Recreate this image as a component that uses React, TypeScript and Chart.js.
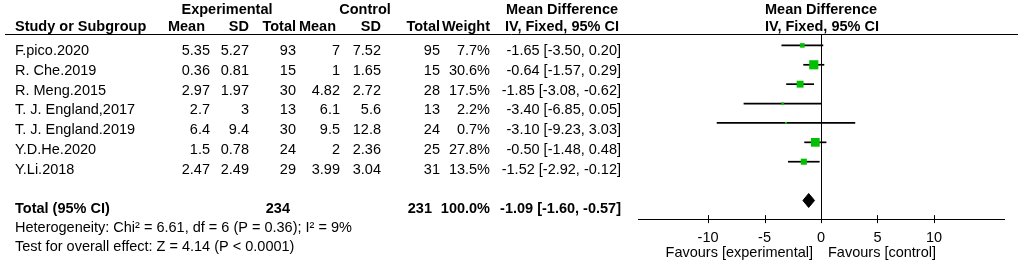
import React, { useEffect, useRef } from "react";
import { Chart, registerables } from "chart.js";

Chart.register(...registerables);

// ---- data ----
const studies = [
  "F.pico.2020",
  "R. Che.2019",
  "R. Meng.2015",
  "T. J. England,2017",
  "T. J. England.2019",
  "Y.D.He.2020",
  "Y.Li.2018",
];
const expMean = ["5.35", "0.36", "2.97", "2.7", "6.4", "1.5", "2.47"];
const expSD = ["5.27", "0.81", "1.97", "3", "9.4", "0.78", "2.49"];
const expTotal = [93, 15, 30, 13, 30, 24, 29];
const ctrlMean = ["7", "1", "4.82", "6.1", "9.5", "2", "3.99"];
const ctrlSD = ["7.52", "1.65", "2.72", "5.6", "12.8", "2.36", "3.04"];
const ctrlTotal = [95, 15, 28, 13, 24, 25, 31];
const weights = [7.7, 30.6, 17.5, 2.2, 0.7, 27.8, 13.5];
const meanDiff = [-1.65, -0.64, -1.85, -3.4, -3.1, -0.5, -1.52];
const ciLow = [-3.5, -1.57, -3.08, -6.85, -9.23, -1.48, -2.92];
const ciHigh = [0.2, 0.29, -0.62, 0.05, 3.03, 0.48, -0.12];

const totalExp = 234;
const totalCtrl = 231;
const totalWeight = 100.0;
const totalMD = -1.09;
const totalLow = -1.6;
const totalHigh = -0.57;

const xTicks = [-10, -5, 0, 5, 10];
const heterogeneityText = "Heterogeneity: Chi\u00b2 = 6.61, df = 6 (P = 0.36); I\u00b2 = 9%";
const overallText = "Test for overall effect: Z = 4.14 (P < 0.0001)";
const favoursLeft = "Favours [experimental]";
const favoursRight = "Favours [control]";

// ---- style ----
const FONT_FAMILY = '"Liberation Sans", Arial, Helvetica, sans-serif';
const FS = 14.5;
const GREEN = "#00c000";
const TOTAL_ROW = 8;

const f2 = (v: number) => (v < 0 ? "-" : "") + Math.abs(v).toFixed(2);
const ciText = (m: number, l: number, h: number) => `${f2(m)} [${f2(l)}, ${f2(h)}]`;

const tablePlugin = {
  id: "forestTable",
  afterDraw(chart: any) {
    const ctx: CanvasRenderingContext2D = chart.ctx;
    const xs = chart.scales.x;
    const area = chart.chartArea;
    ctx.save();
    ctx.fillStyle = "#000";
    const t = (s: string, x: number, y: number, align: CanvasTextAlign, bold = false) => {
      ctx.font = `${bold ? "bold " : ""}${FS}px ${FONT_FAMILY}`;
      ctx.textAlign = align;
      ctx.textBaseline = "alphabetic";
      ctx.fillText(s, x, y);
    };
    const colExpMean = 210, colExpSD = 249, colExpTot = 296;
    const colCtlMean = 340, colCtlSD = 381, colCtlTot = 440;
    const colWeight = 490, colCI = 621;
    // headers
    t("Experimental", 227, 14, "center", true);
    t("Control", 365, 14, "center", true);
    t("Mean Difference", 562, 14, "center", true);
    t("Mean Difference", xs.getPixelForValue(0), 14, "center", true);
    const hy = 31;
    t("Study or Subgroup", 15, hy, "left", true);
    t("Mean", 205, hy, "right", true);
    t("SD", colExpSD, hy, "right", true);
    t("Total", colExpTot, hy, "right", true);
    t("Mean", 336, hy, "right", true);
    t("SD", colCtlSD, hy, "right", true);
    t("Total", colCtlTot, hy, "right", true);
    t("Weight", colWeight, hy, "right", true);
    t("IV, Fixed, 95% CI", 562, hy, "center", true);
    t("IV, Fixed, 95% CI", xs.getPixelForValue(0) + 1, hy, "center", true);

    // header rule
    ctx.strokeStyle = "#000";
    ctx.lineWidth = 1;
    ctx.beginPath();
    ctx.moveTo(5, 34.5);
    ctx.lineTo(1018, 34.5);
    ctx.stroke();

    // rows
    const base = 55;
    const step = 19.75;
    studies.forEach((s, i) => {
      const y = base + i * step;
      t(s, 15, y, "left");
      t(expMean[i], colExpMean, y, "right");
      t(expSD[i], colExpSD, y, "right");
      t(String(expTotal[i]), colExpTot, y, "right");
      t(ctrlMean[i], colCtlMean, y, "right");
      t(ctrlSD[i], colCtlSD, y, "right");
      t(String(ctrlTotal[i]), colCtlTot, y, "right");
      t(weights[i].toFixed(1) + "%", colWeight, y, "right");
      t(ciText(meanDiff[i], ciLow[i], ciHigh[i]), colCI, y, "right");
    });
    const ty = base + TOTAL_ROW * step;
    t("Total (95% CI)", 15, ty, "left", true);
    t(String(totalExp), colExpTot - 6, ty, "right", true);
    t(String(totalCtrl), colCtlTot - 8, ty, "right", true);
    t(totalWeight.toFixed(1) + "%", colWeight, ty, "right", true);
    t(ciText(totalMD, totalLow, totalHigh), colCI, ty, "right", true);
    t(heterogeneityText, 15, 232, "left");
    t(overallText, 15, 251, "left");

    // zero line
    const x0 = Math.round(xs.getPixelForValue(0)) + 0.5;
    ctx.beginPath();
    ctx.moveTo(x0, 34.5);
    ctx.lineTo(x0, area.bottom);
    ctx.stroke();

    // ticks crossing the axis
    xs.ticks.forEach((tk: any) => {
      const px = Math.round(xs.getPixelForValue(tk.value)) + 0.5;
      ctx.beginPath();
      ctx.moveTo(px, area.bottom - 4);
      ctx.lineTo(px, area.bottom + 4);
      ctx.stroke();
    });

    // favours labels
    t(favoursLeft, xs.getPixelForValue(0) - 8, 257, "right");
    t(favoursRight, xs.getPixelForValue(0) + 7, 257, "left");
    ctx.restore();
  },
};

export default function App() {
  const ref = useRef<HTMLCanvasElement | null>(null);
  useEffect(() => {
    document.body.style.margin = "0";
    const canvas = ref.current!;
    const ciSets = studies.map((_, i) => ({
      type: "scatter" as const,
      data: [
        { x: ciLow[i], y: i },
        { x: ciHigh[i], y: i },
      ],
      showLine: true,
      borderColor: "#000",
      borderWidth: 1.7,
      pointRadius: 0,
      order: 2,
    }));
    const squareSet = {
      type: "scatter" as const,
      data: meanDiff.map((m, i) => ({ x: m, y: i })),
      pointStyle: "rect" as const,
      pointRadius: weights.map((w) => Math.max(2, 1.65 * Math.sqrt(w)) / Math.SQRT2),
      backgroundColor: GREEN,
      borderColor: GREEN,
      borderWidth: 0,
      order: 1,
    };
    const h = 0.36;
    const diamondSet = {
      type: "scatter" as const,
      data: [
        { x: totalLow, y: TOTAL_ROW },
        { x: totalMD, y: TOTAL_ROW - h },
        { x: totalHigh, y: TOTAL_ROW },
        { x: totalMD, y: TOTAL_ROW + h },
        { x: totalLow, y: TOTAL_ROW },
      ],
      showLine: true,
      fill: "shape",
      backgroundColor: "#000",
      borderColor: "#000",
      borderWidth: 1,
      pointRadius: 0,
      order: 0,
    };
    const chart = new Chart(canvas, {
      type: "scatter",
      data: { datasets: [...ciSets, squareSet, diamondSet] as any },
      options: {
        animation: false,
        responsive: false,
        events: [],
        layout: { padding: { left: 638, right: 17, top: 34, bottom: 15.5 } },
        plugins: { legend: { display: false }, tooltip: { enabled: false } },
        scales: {
          x: {
            type: "linear",
            min: -16.2,
            max: 16.2,
            afterBuildTicks: (scale: any) => {
              scale.ticks = xTicks.map((v) => ({ value: v }));
            },
            grid: { display: false },
            border: { display: true, color: "#000", width: 1 },
            ticks: {
              color: "#000",
              padding: 2,
              font: { family: FONT_FAMILY, size: FS },
              callback: (v: any) => String(v),
            },
          },
          y: {
            type: "linear",
            display: false,
            reverse: true,
            min: -0.588,
            max: 8.96,
          },
        },
      },
      plugins: [tablePlugin],
    });
    return () => chart.destroy();
  }, []);
  return <canvas ref={ref} width={1021} height={264} style={{ display: "block" }} />;
}
